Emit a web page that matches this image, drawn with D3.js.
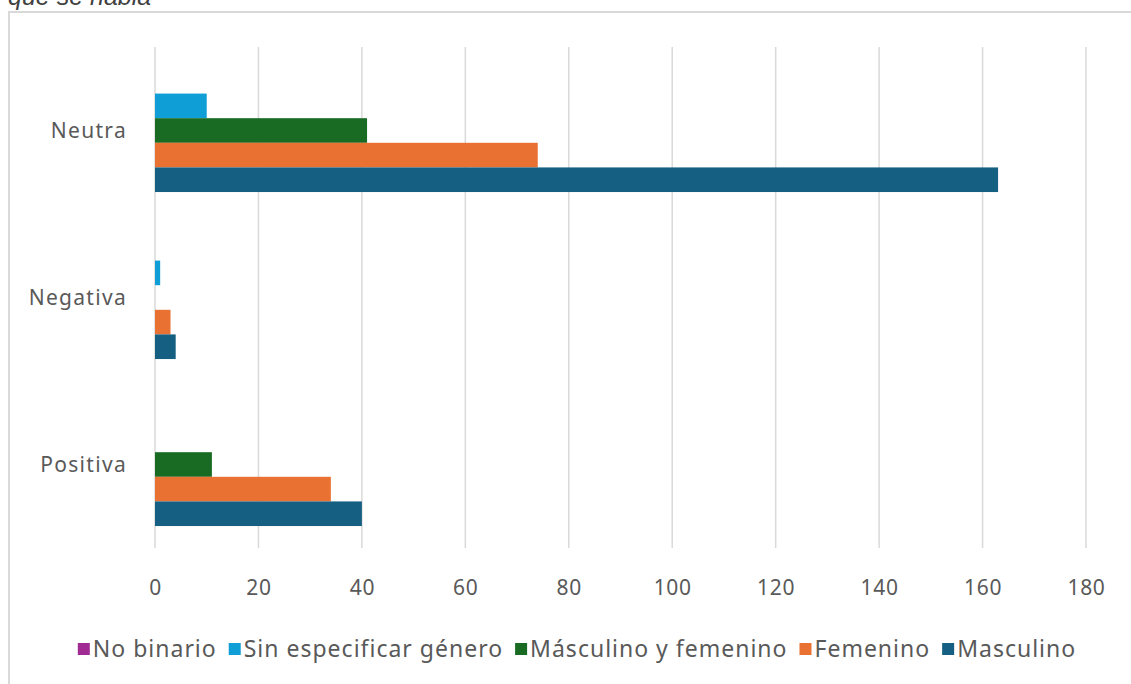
<!DOCTYPE html>
<html>
<head>
<meta charset="utf-8">
<script src="https://cdn.jsdelivr.net/npm/d3@7"></script>
<style>
	body { margin: 0; background: #fff; }
	text { font-family: "Noto Sans", sans-serif; }
</style>
</head>
<body>
<div id="chart"></div>
<script>
// data
var categories = ['Neutra', 'Negativa', 'Positiva'];
var seriesNames = ['No binario', 'Sin especificar género', 'Másculino y femenino', 'Femenino', 'Masculino'];
var noBinario = [0, 0, 0];
var sinEspecificar = [10, 1, 0];
var masculinoYFemenino = [41, 0, 11];
var femenino = [74, 3, 34];
var masculino = [163, 4, 40];
var xTicks = [0, 20, 40, 60, 80, 100, 120, 140, 160, 180];

var colors = ['#A02B93', '#0F9ED5', '#196B24', '#E97132', '#156082'];
var seriesValues = [noBinario, sinEspecificar, masculinoYFemenino, femenino, masculino];

var width = 1131,
	height = 684;

var svg = d3.select('#chart').append('svg')
	.attr('width', width)
	.attr('height', height);

//title (cut off at the top)
svg.append('text')
	.attr('x', 8)
	.attr('y', 5)
	.attr('font-size', 25)
	.attr('font-style', 'italic')
	.style('font-family', '"Liberation Sans", Arial, sans-serif')
	.attr('fill', '#404040')
	.text('que se habla');

//chart border
svg.append('rect')
	.attr('x', 9)
	.attr('y', 12)
	.attr('width', 1300)
	.attr('height', 900)
	.attr('fill', 'none')
	.attr('stroke', '#d9d9d9')
	.attr('stroke-width', 2);

//scales
var x = d3.scaleLinear()
	.domain([0, 180])
	.range([155, 1086]);

var y = d3.scaleBand()
	.domain(categories)
	.range([47, 548])
	.paddingInner(0.263)
	.paddingOuter(0.1315);

var y1 = d3.scaleBand()
	.domain(seriesNames)
	.range([0, y.bandwidth()]);

//gridlines
svg.append('g')
	.selectAll('line')
	.data(xTicks)
	.enter().append('line')
		.attr('x1', function(d){ return x(d); })
		.attr('x2', function(d){ return x(d); })
		.attr('y1', 47)
		.attr('y2', 548)
		.attr('stroke', '#d9d9d9')
		.attr('stroke-width', 1.5);

//bars
var rows = [];
seriesNames.forEach(function(s, i){
	categories.forEach(function(c, j){
		rows.push({series: s, cat: c, value: seriesValues[i][j], color: colors[i]});
	});
});

svg.append('g')
	.selectAll('rect')
	.data(rows.filter(function(d){ return d.value > 0; }))
	.enter().append('rect')
		.attr('x', x(0))
		.attr('y', function(d){ return y(d.cat) + y1(d.series); })
		.attr('width', function(d){ return x(d.value) - x(0); })
		.attr('height', y1.bandwidth())
		.attr('fill', function(d){ return d.color; });

//x axis labels
var xAxis = d3.axisBottom(x)
	.tickValues(xTicks)
	.tickSize(0)
	.tickPadding(0);

var gx = svg.append('g')
	.attr('transform', 'translate(0,595)')
	.call(xAxis);
gx.select('.domain').remove();
gx.selectAll('text')
	.attr('dy', 0)
	.attr('font-size', 21)
	.attr('letter-spacing', 0.7)
	.attr('fill', '#595959')
	.style('font-family', '"Noto Sans", sans-serif');

//y axis labels
var yAxis = d3.axisLeft(y)
	.tickSize(0)
	.tickPadding(0);

var gy = svg.append('g')
	.attr('transform', 'translate(127,0)')
	.call(yAxis);
gy.select('.domain').remove();
gy.selectAll('text')
	.attr('dy', '0.35em')
	.attr('font-size', 21)
	.attr('letter-spacing', 1.3)
	.attr('fill', '#595959')
	.style('font-family', '"Noto Sans", sans-serif');

//legend
var legend = svg.append('g');
var items = legend.selectAll('g')
	.data(seriesNames)
	.enter().append('g');

items.append('rect')
	.attr('width', 12)
	.attr('height', 12)
	.attr('y', -6)
	.attr('fill', function(d, i){ return colors[i]; });

items.append('text')
	.attr('x', 15)
	.attr('dy', '0.35em')
	.attr('font-size', 23)
	.attr('letter-spacing', 1)
	.attr('fill', '#595959')
	.text(function(d){ return d; });

var offset = 0;
items.each(function(d){
	var w = d3.select(this).select('text').node().getComputedTextLength();
	d3.select(this).attr('transform', 'translate(' + offset + ',0)');
	offset += 15 + w + 12;
});
offset -= 12;
legend.attr('transform', 'translate(' + (577 - offset / 2) + ',649)');
</script>
</body>
</html>
